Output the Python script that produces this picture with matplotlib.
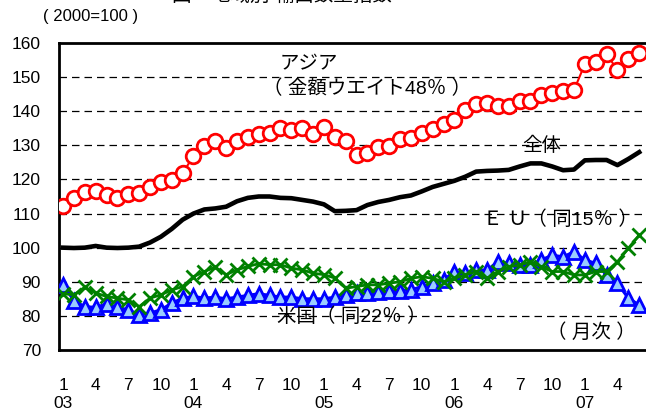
import numpy as np
import matplotlib
matplotlib.use('Agg')
import matplotlib.pyplot as plt
import matplotlib.transforms as mtransforms

plt.rcParams['font.family'] = ['Liberation Sans', 'Noto Sans CJK JP']

# 2003年1月～2007年6月（月次）
months = np.arange(54)

asia = [112.3, 114.6, 116.3, 116.6, 115.3, 114.5, 115.6, 116.1, 117.9, 119.2,
        119.7, 121.8, 126.9, 129.8, 131.2, 129.3, 131.4, 132.4, 133.4, 133.5,
        135.2, 134.5, 135.2, 133.2, 135.5, 132.4, 131.3, 127.2, 127.7, 129.4,
        129.8, 131.8, 132.1, 133.5, 134.7, 136.2, 137.5, 140.4, 142.1, 142.3,
        141.5, 141.5, 143.1, 143.1, 144.8, 145.4, 145.9, 146.2, 153.8, 154.5,
        156.7, 152.1, 155.2, 157.0]

total = [100.0, 99.9, 100.0, 100.5, 100.0, 99.9, 100.0, 100.3, 101.5, 103.2,
         105.5, 108.2, 110.0, 111.2, 111.5, 112.0, 113.6, 114.6, 115.0, 115.0,
         114.6, 114.5, 114.0, 113.5, 112.7, 110.7, 110.8, 111.0, 112.5, 113.4,
         114.0, 114.8, 115.3, 116.5, 117.8, 118.7, 119.6, 120.8, 122.3, 122.5,
         122.6, 122.8, 123.8, 124.7, 124.7, 123.8, 122.7, 122.9, 125.6, 125.7,
         125.7, 124.2, 126.0, 128.0]

eu = [86.5, 86.2, 88.4, 86.7, 85.7, 85.2, 84.7, 82.7, 85.2, 86.2,
      87.6, 88.6, 91.5, 93.0, 94.3, 92.1, 93.5, 94.5, 95.3, 95.0,
      95.0, 94.0, 93.5, 92.5, 92.1, 91.1, 88.1, 88.6, 89.1, 89.1,
      89.6, 90.0, 91.0, 91.5, 91.0, 90.0, 91.0, 92.0, 93.0, 91.0,
      93.0, 94.4, 94.9, 95.9, 94.4, 93.0, 93.0, 92.0, 92.0, 93.0,
      93.0, 95.9, 99.8, 103.7]

us = [89.1, 84.5, 82.7, 82.5, 83.5, 82.5, 81.8, 80.3, 80.8, 81.8,
      83.7, 85.2, 85.7, 85.2, 85.5, 85.0, 85.5, 86.0, 86.5, 86.0,
      85.5, 85.5, 85.0, 85.0, 85.0, 85.5, 86.2, 86.7, 86.7, 87.0,
      87.2, 87.4, 87.6, 88.6, 89.6, 90.5, 93.0, 92.5, 93.4, 93.4,
      95.9, 95.4, 94.9, 94.9, 96.4, 97.8, 97.3, 98.8, 96.4, 95.4,
      92.0, 89.5, 85.2, 83.2]

month_labels = ['1', '4', '7', '10'] * 4 + ['1', '4']
year_labels = ['03', '04', '05', '06', '07']

fig = plt.figure(figsize=(6.46, 4.11), dpi=100)
ax = fig.add_axes([59 / 646, 61 / 411, 590 / 646, 307 / 411])

ax.plot(months, us, color='#0000ff', lw=2.2, marker='^', ms=10,
        mfc='#99ccff', mec='#0000ff', mew=2, zorder=3)
ax.plot(months, eu, color='#008000', lw=2, marker='x', ms=10,
        mec='#008000', mew=2, zorder=4)
ax.plot(months, total, color='black', lw=3.3, zorder=5)
ax.plot(months, asia, color='#ff0000', lw=1.5, marker='o', ms=10.5,
        mfc='white', mec='#ff0000', mew=2, zorder=6)

ax.set_ylim(70, 160)
ax.set_xlim(-0.37, 53.9)
ax.set_yticks(range(70, 161, 10))
for y in range(80, 160, 10):
    ax.axhline(y, color='black', lw=0.9, ls=(0, (6, 4)), zorder=1)

tick_pos = months[::3]
ax.set_xticks(tick_pos)
ax.set_xticklabels(month_labels)
ax.tick_params(axis='both', length=0, labelsize=12.5)
ax.tick_params(axis='x', pad=20)
ax.tick_params(axis='y', pad=13)

trans = mtransforms.blended_transform_factory(ax.transData, fig.transFigure)
for i, yl in enumerate(year_labels):
    ax.text(months[i * 12], 1 - 403 / 411, yl, transform=trans, ha='center',
            va='center', fontsize=12.5)

for s in ax.spines.values():
    s.set_linewidth(2)

ax.text(19.9, 156.2, 'アジア', fontsize=14, ha='left', va='top')
ax.text(18.4, 149.2, '（ 金額ウエイト48％ ）', fontsize=14, ha='left', va='top')
ax.text(42.2, 132.5, '全体', fontsize=14, ha='left', va='top')
ax.text(38.6, 111.0, 'Ｅ Ｕ（ 同15％ ）', fontsize=14, ha='left', va='top')
ax.text(19.7, 82.4, '米国（ 同22％ ）', fontsize=14, ha='left', va='top')
ax.text(44.5, 78.0, '（ 月次 ）', fontsize=14, ha='left', va='top')

fig.text(43 / 646, 1 - 17 / 411, '( 2000=100 )', fontsize=12, ha='left', va='center')
fig.text(282 / 646, 1 + 4 / 411, '図　地域別 輸出数量指数', fontsize=14,
         ha='center', va='center')

fig.savefig('out.png', dpi=100)
